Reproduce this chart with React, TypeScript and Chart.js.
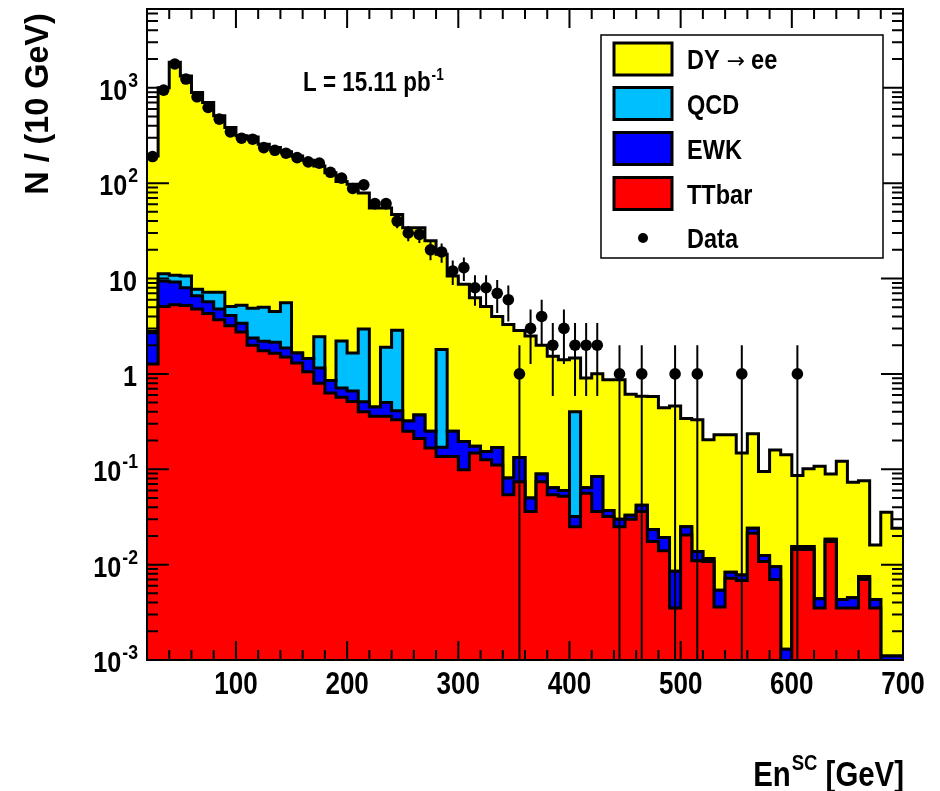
import React, { useEffect, useRef } from "react";
import { Chart, registerables } from "chart.js";

Chart.register(...registerables);

// ---------------- data ----------------
const binLowEdges = [
  20, 30, 40, 50, 60, 70, 80, 90, 100, 110, 120, 130, 140, 150, 160, 170, 180, 190, 200, 210,
  220, 230, 240, 250, 260, 270, 280, 290, 300, 310, 320, 330, 340, 350, 360, 370, 380, 390, 400, 410,
  420, 430, 440, 450, 460, 470, 480, 490, 500, 510, 520, 530, 540, 550, 560, 570, 580, 590, 600, 610,
  620, 630, 640, 650, 660, 670, 680, 690,
];
const xUpperEdge = 700;

const ttbar = [
  1.27, 5.1, 5.3, 5.2, 4.8, 4.3, 3.7, 3.2, 2.75, 2.0,
  1.75, 1.65, 1.5, 1.3, 1.05, 0.8, 0.63, 0.57, 0.515, 0.4,
  0.36, 0.36, 0.33, 0.25, 0.21, 0.167, 0.136, 0.136, 0.099, 0.148,
  0.126, 0.111, 0.054, 0.074, 0.036, 0.074, 0.054, 0.052, 0.025, 0.056,
  0.036, 0.032, 0.025, 0.03, 0.036, 0.0175, 0.014, 0.0035, 0.0205, 0.011,
  0.0108, 0.0036, 0.0072, 0.0068, 0.0213, 0.0108, 0.007, 0, 0.0144, 0.0144,
  0.0035, 0.0175, 0.0035, 0.0035, 0.007, 0.0035, 0, 0,
];
const ewk = [
  1.43, 4.3, 3.9, 2.8, 1.8, 1.4, 1.1, 0.9, 0.65, 0.38,
  0.45, 0.5, 0.37, 0.36, 0.4, 0.35, 0.22, 0.14, 0.145, 0.11,
  0.09, 0.14, 0.08, 0.07, 0.16, 0.083, 0.034, 0.114, 0.097, 0.026,
  0.028, 0.058, 0.027, 0.059, 0.014, 0.015, 0.01, 0.008, 0.007, 0.008,
  0.048, 0.005, 0.005, 0.003, 0.006, 0.0058, 0.0053, 0.005, 0.0045, 0.0027,
  0.0008, 0.0018, 0.0011, 0.001, 0.0027, 0.0017, 0.0025, 0.0013, 0.0011, 0.0011,
  0.0009, 0.001, 0.0008, 0.001, 0.0005, 0.0008, 0.0011, 0.0011,
];
const qcd = [
  0.1, 1.8, 1.6, 2.6, 1.1, 1.5, 2.4, 1.0, 1.85, 2.5,
  2.8, 2.35, 3.7, 0, 0, 1.3, 0, 1.5, 1.0, 2.45,
  0, 1.4, 2.45, 0, 0, 0, 1.63, 0, 0, 0,
  0, 0, 0, 0, 0, 0, 0, 0, 0.37, 0,
  0, 0, 0, 0, 0, 0, 0, 0, 0, 0,
  0, 0, 0, 0, 0, 0, 0, 0, 0, 0,
  0, 0, 0, 0, 0, 0, 0, 0,
];
const dyee = [
  190, 989, 1839, 1319, 882, 693, 501, 378, 308, 300,
  251, 232, 208, 191, 172, 149, 128, 102, 96, 76,
  54.5, 53, 44, 33.7, 33.6, 24.7, 16.2, 10.35, 8.5, 6.13,
  4.95, 3.83, 3.22, 2.72, 2.45, 1.91, 1.47, 1.35, 1.07, 0.84,
  0.92, 0.83, 0.84, 0.58, 0.54, 0.557, 0.421, 0.452, 0.315, 0.316,
  0.192, 0.225, 0.222, 0.14, 0.212, 0.0825, 0.15, 0.141, 0.0705, 0.0855,
  0.103, 0.0705, 0.117, 0.0685, 0.0685, 0.0118, 0.0344, 0.0229,
];
const dataCounts: (number | null)[] = [
  190, 946, 1775, 1234, 804, 621, 469, 345, 296, 289,
  236, 221, 206, 185, 167, 162, 130, 113, 88, 96,
  61, 61, 40, 30, 29, 20, 19, 12, 13, 8,
  8, 7, 6, 1, 3, 4, 2, 3, 2, 2,
  2, null, 1, null, 1, null, null, 1, null, 1,
  null, null, null, 1, null, null, null, null, 1, null,
  null, null, null, null, null, null, null, null,
];

const xTickLabels = [100, 200, 300, 400, 500, 600, 700];
const xMinorStep = 20;
const yDecades = [-3, -2, -1, 0, 1, 2, 3];
const yMin = 0.001;
const yMax = 6700;

const seriesNames = ["DY \u2192 ee", "QCD", "EWK", "TTbar", "Data"];
const seriesColors = ["#ffff00", "#00bfff", "#0000ff", "#ff0000", "#000000"];

// ---------------- helpers ----------------
const FONT = '"Liberation Sans", Arial, Helvetica, sans-serif';
const SX = 0.84;

function textWidth(ctx: CanvasRenderingContext2D, s: string, size: number, sx = SX, weight = "bold") {
  ctx.save();
  ctx.font = `${weight} ${size}px ${FONT}`;
  const w = ctx.measureText(s).width * sx;
  ctx.restore();
  return w;
}

function drawText(
  ctx: CanvasRenderingContext2D,
  s: string,
  x: number,
  y: number,
  size: number,
  align: "left" | "right" | "center" = "left",
  sx = SX,
  weight = "bold"
) {
  ctx.save();
  ctx.font = `${weight} ${size}px ${FONT}`;
  const w = ctx.measureText(s).width * sx;
  const x0 = align === "right" ? x - w : align === "center" ? x - w / 2 : x;
  ctx.translate(x0, y);
  ctx.scale(sx, 1);
  ctx.fillStyle = "#000";
  ctx.textAlign = "left";
  ctx.textBaseline = "alphabetic";
  ctx.fillText(s, 0, 0);
  ctx.restore();
  return w;
}

function cumulate(...arrs: number[][]) {
  return arrs[0].map((_, i) => arrs.reduce((s, a) => s + a[i], 0));
}

function stepPoints(vals: number[]) {
  const floor = 1e-7; // below the axis: keeps empty bins on a log scale
  const pts = binLowEdges.map((x, i) => ({ x, y: Math.max(vals[i], floor) }));
  pts.push({ x: xUpperEdge, y: Math.max(vals[vals.length - 1], floor) });
  return pts;
}

function binCenter(i: number) {
  const hi = i + 1 < binLowEdges.length ? binLowEdges[i + 1] : xUpperEdge;
  return (binLowEdges[i] + hi) / 2;
}

// ---------------- plugins ----------------
const errorBarPlugin = {
  id: "errorBars",
  beforeDatasetDraw(chart: any, args: any) {
    if (args.index !== 0) return;
    const { ctx, chartArea: a, scales } = chart;
    const x = scales.x;
    const y = scales.y;
    ctx.save();
    ctx.beginPath();
    ctx.rect(a.left, a.top, a.right - a.left, a.bottom - a.top);
    ctx.clip();
    ctx.strokeStyle = "#000";
    ctx.lineWidth = 2;
    ctx.beginPath();
    dataCounts.forEach((n, i) => {
      if (n == null) return;
      const e = Math.sqrt(n);
      const px = x.getPixelForValue(binCenter(i));
      const yTop = y.getPixelForValue(n + e);
      const yBot = n - e > 0 ? y.getPixelForValue(n - e) : a.bottom;
      ctx.moveTo(px, yTop);
      ctx.lineTo(px, yBot);
    });
    ctx.stroke();
    ctx.restore();
  },
};

const rootFramePlugin = {
  id: "rootFrame",
  afterDraw(chart: any) {
    const { ctx, chartArea: a, scales } = chart;
    const x = scales.x;
    const y = scales.y;
    ctx.save();
    ctx.strokeStyle = "#000";
    ctx.lineWidth = 2;

    // x ticks (inward, bottom and top)
    ctx.beginPath();
    for (let v = binLowEdges[0] + xMinorStep; v <= xUpperEdge; v += xMinorStep) {
      const px = x.getPixelForValue(v);
      const major = xTickLabels.includes(v);
      const len = major ? 19 : 10;
      ctx.moveTo(px, a.bottom);
      ctx.lineTo(px, a.bottom - len);
      ctx.moveTo(px, a.top);
      ctx.lineTo(px, a.top + len);
    }
    // y ticks (inward, left and right)
    yDecades.forEach((d) => {
      for (let m = 1; m <= 9; m++) {
        const v = m * Math.pow(10, d);
        if (v < yMin || v > yMax) continue;
        const py = y.getPixelForValue(v);
        const len = m === 1 ? 22 : 11;
        ctx.moveTo(a.left, py);
        ctx.lineTo(a.left + len, py);
        ctx.moveTo(a.right, py);
        ctx.lineTo(a.right - len, py);
      }
    });
    ctx.stroke();

    // frame
    ctx.lineWidth = 2;
    ctx.strokeRect(a.left, a.top, a.right - a.left, a.bottom - a.top);

    // x tick labels
    xTickLabels.forEach((v) => {
      drawText(ctx, String(v), x.getPixelForValue(v), a.bottom + 34, 31, "center");
    });

    // y tick labels with superscript exponents
    const right = a.left - 9;
    yDecades.forEach((d) => {
      const py = y.getPixelForValue(Math.pow(10, d));
      if (d === 0 || d === 1) {
        drawText(ctx, d === 0 ? "1" : "10", right - 1, py + 12, 30, "right");
      } else {
        const exp = String(d);
        const ew = textWidth(ctx, exp, 21);
        drawText(ctx, exp, right, py - 1, 21, "right");
        drawText(ctx, "10", right - ew - 1, py + 12, 30, "right");
      }
    });

    // x title: En^SC [GeV]
    {
      const size = 35;
      const tail = " [GeV]";
      const base = a.bottom + 126;
      const rightX = 904;
      const wTail = textWidth(ctx, tail, size);
      const wSup = textWidth(ctx, "SC", 22);
      drawText(ctx, tail, rightX, base, size, "right");
      drawText(ctx, "SC", rightX - wTail, base - 16, 22, "right");
      drawText(ctx, "En", rightX - wTail - wSup - 1, base, size, "right");
    }
    // y title
    ctx.save();
    ctx.translate(48, 104);
    ctx.rotate(-Math.PI / 2);
    drawText(ctx, "N / (10 GeV)", 0, 0, 34, "center", 0.95);
    ctx.restore();

    // luminosity label
    {
      const w = drawText(ctx, "L = 15.11 pb", 303, 91, 28, "left", 0.8);
      drawText(ctx, "-1", 303 + w + 1, 80, 17, "left", 0.8);
    }

    // legend
    const lx = 601, ly = 35, lw = 282, lh = 223;
    ctx.fillStyle = "#fff";
    ctx.fillRect(lx, ly, lw, lh);
    ctx.lineWidth = 1.5;
    ctx.strokeRect(lx, ly, lw, lh);
    const rowCenters = [59, 103.5, 148.5, 193.5, 238];
    seriesNames.forEach((name, i) => {
      const cy = rowCenters[i];
      if (i < 4) {
        ctx.fillStyle = seriesColors[i];
        ctx.fillRect(614, cy - 16, 58, 32);
        ctx.lineWidth = 3;
        ctx.strokeStyle = "#000";
        ctx.strokeRect(614, cy - 16, 58, 32);
      } else {
        ctx.fillStyle = "#000";
        ctx.beginPath();
        ctx.arc(643, cy, 5, 0, Math.PI * 2);
        ctx.fill();
      }
      if (i === 0) {
        const w1 = drawText(ctx, "DY", 687, cy + 10, 28);
        const ax = 687 + w1 + 7;
        // thin arrow glyph (symbol style)
        ctx.save();
        ctx.font = `normal 22px "DejaVu Sans", ${FONT}`;
        ctx.fillStyle = "#000";
        ctx.textAlign = "left";
        ctx.textBaseline = "alphabetic";
        const aw = ctx.measureText("\u2192").width;
        ctx.fillText("\u2192", ax, cy + 9);
        ctx.restore();
        drawText(ctx, "ee", ax + aw + 6, cy + 10, 28);
      } else {
        drawText(ctx, name, 687, cy + 10, 28);
      }
    });

    ctx.restore();
  },
};

// ---------------- component ----------------
export default function App() {
  const canvasRef = useRef<HTMLCanvasElement | null>(null);

  useEffect(() => {
    const canvas = canvasRef.current;
    if (!canvas) return;

    const cumTT = cumulate(ttbar);
    const cumEWK = cumulate(ttbar, ewk);
    const cumQCD = cumulate(ttbar, ewk, qcd);
    const cumDY = cumulate(ttbar, ewk, qcd, dyee);

    const dataPoints = dataCounts
      .map((n, i) => (n == null ? null : { x: binCenter(i), y: n }))
      .filter((p) => p !== null);

    const histDataset = (label: string, vals: number[], color: string, order: number) => ({
      type: "line" as const,
      label,
      data: stepPoints(vals),
      stepped: "before" as const,
      fill: "start",
      backgroundColor: color,
      borderColor: "#000",
      borderWidth: 3,
      borderJoinStyle: "miter" as const,
      pointRadius: 0,
      pointHoverRadius: 0,
      tension: 0,
      order,
    });

    const chart = new Chart(canvas, {
      type: "line",
      data: {
        datasets: [
          {
            type: "scatter" as const,
            label: "Data",
            data: dataPoints as any,
            pointRadius: 5.8,
            pointBackgroundColor: "#000",
            pointBorderColor: "#000",
            pointBorderWidth: 0,
            showLine: false,
            order: 0,
          } as any,
          histDataset("TTbar", cumTT, seriesColors[3], 1),
          histDataset("EWK", cumEWK, seriesColors[2], 2),
          histDataset("QCD", cumQCD, seriesColors[1], 3),
          histDataset("DY \u2192 ee", cumDY, seriesColors[0], 4),
        ],
      },
      options: {
        responsive: false,
        animation: false,
        devicePixelRatio: 1,
        layout: { padding: { left: 147, right: 37, top: 9, bottom: 131 } },
        plugins: {
          legend: { display: false },
          tooltip: { enabled: false },
          filler: { propagate: false },
        },
        events: [],
        scales: {
          x: { type: "linear", min: binLowEdges[0], max: xUpperEdge, display: false },
          y: { type: "logarithmic", min: yMin, max: yMax, display: false },
        },
      },
      plugins: [errorBarPlugin, rootFramePlugin],
    } as any);

    return () => chart.destroy();
  }, []);

  return (
    <div style={{ position: "absolute", left: 0, top: 0, width: 940, height: 791, background: "#fff" }}>
      <canvas ref={canvasRef} width={940} height={791} style={{ width: 940, height: 791, display: "block" }} />
    </div>
  );
}
